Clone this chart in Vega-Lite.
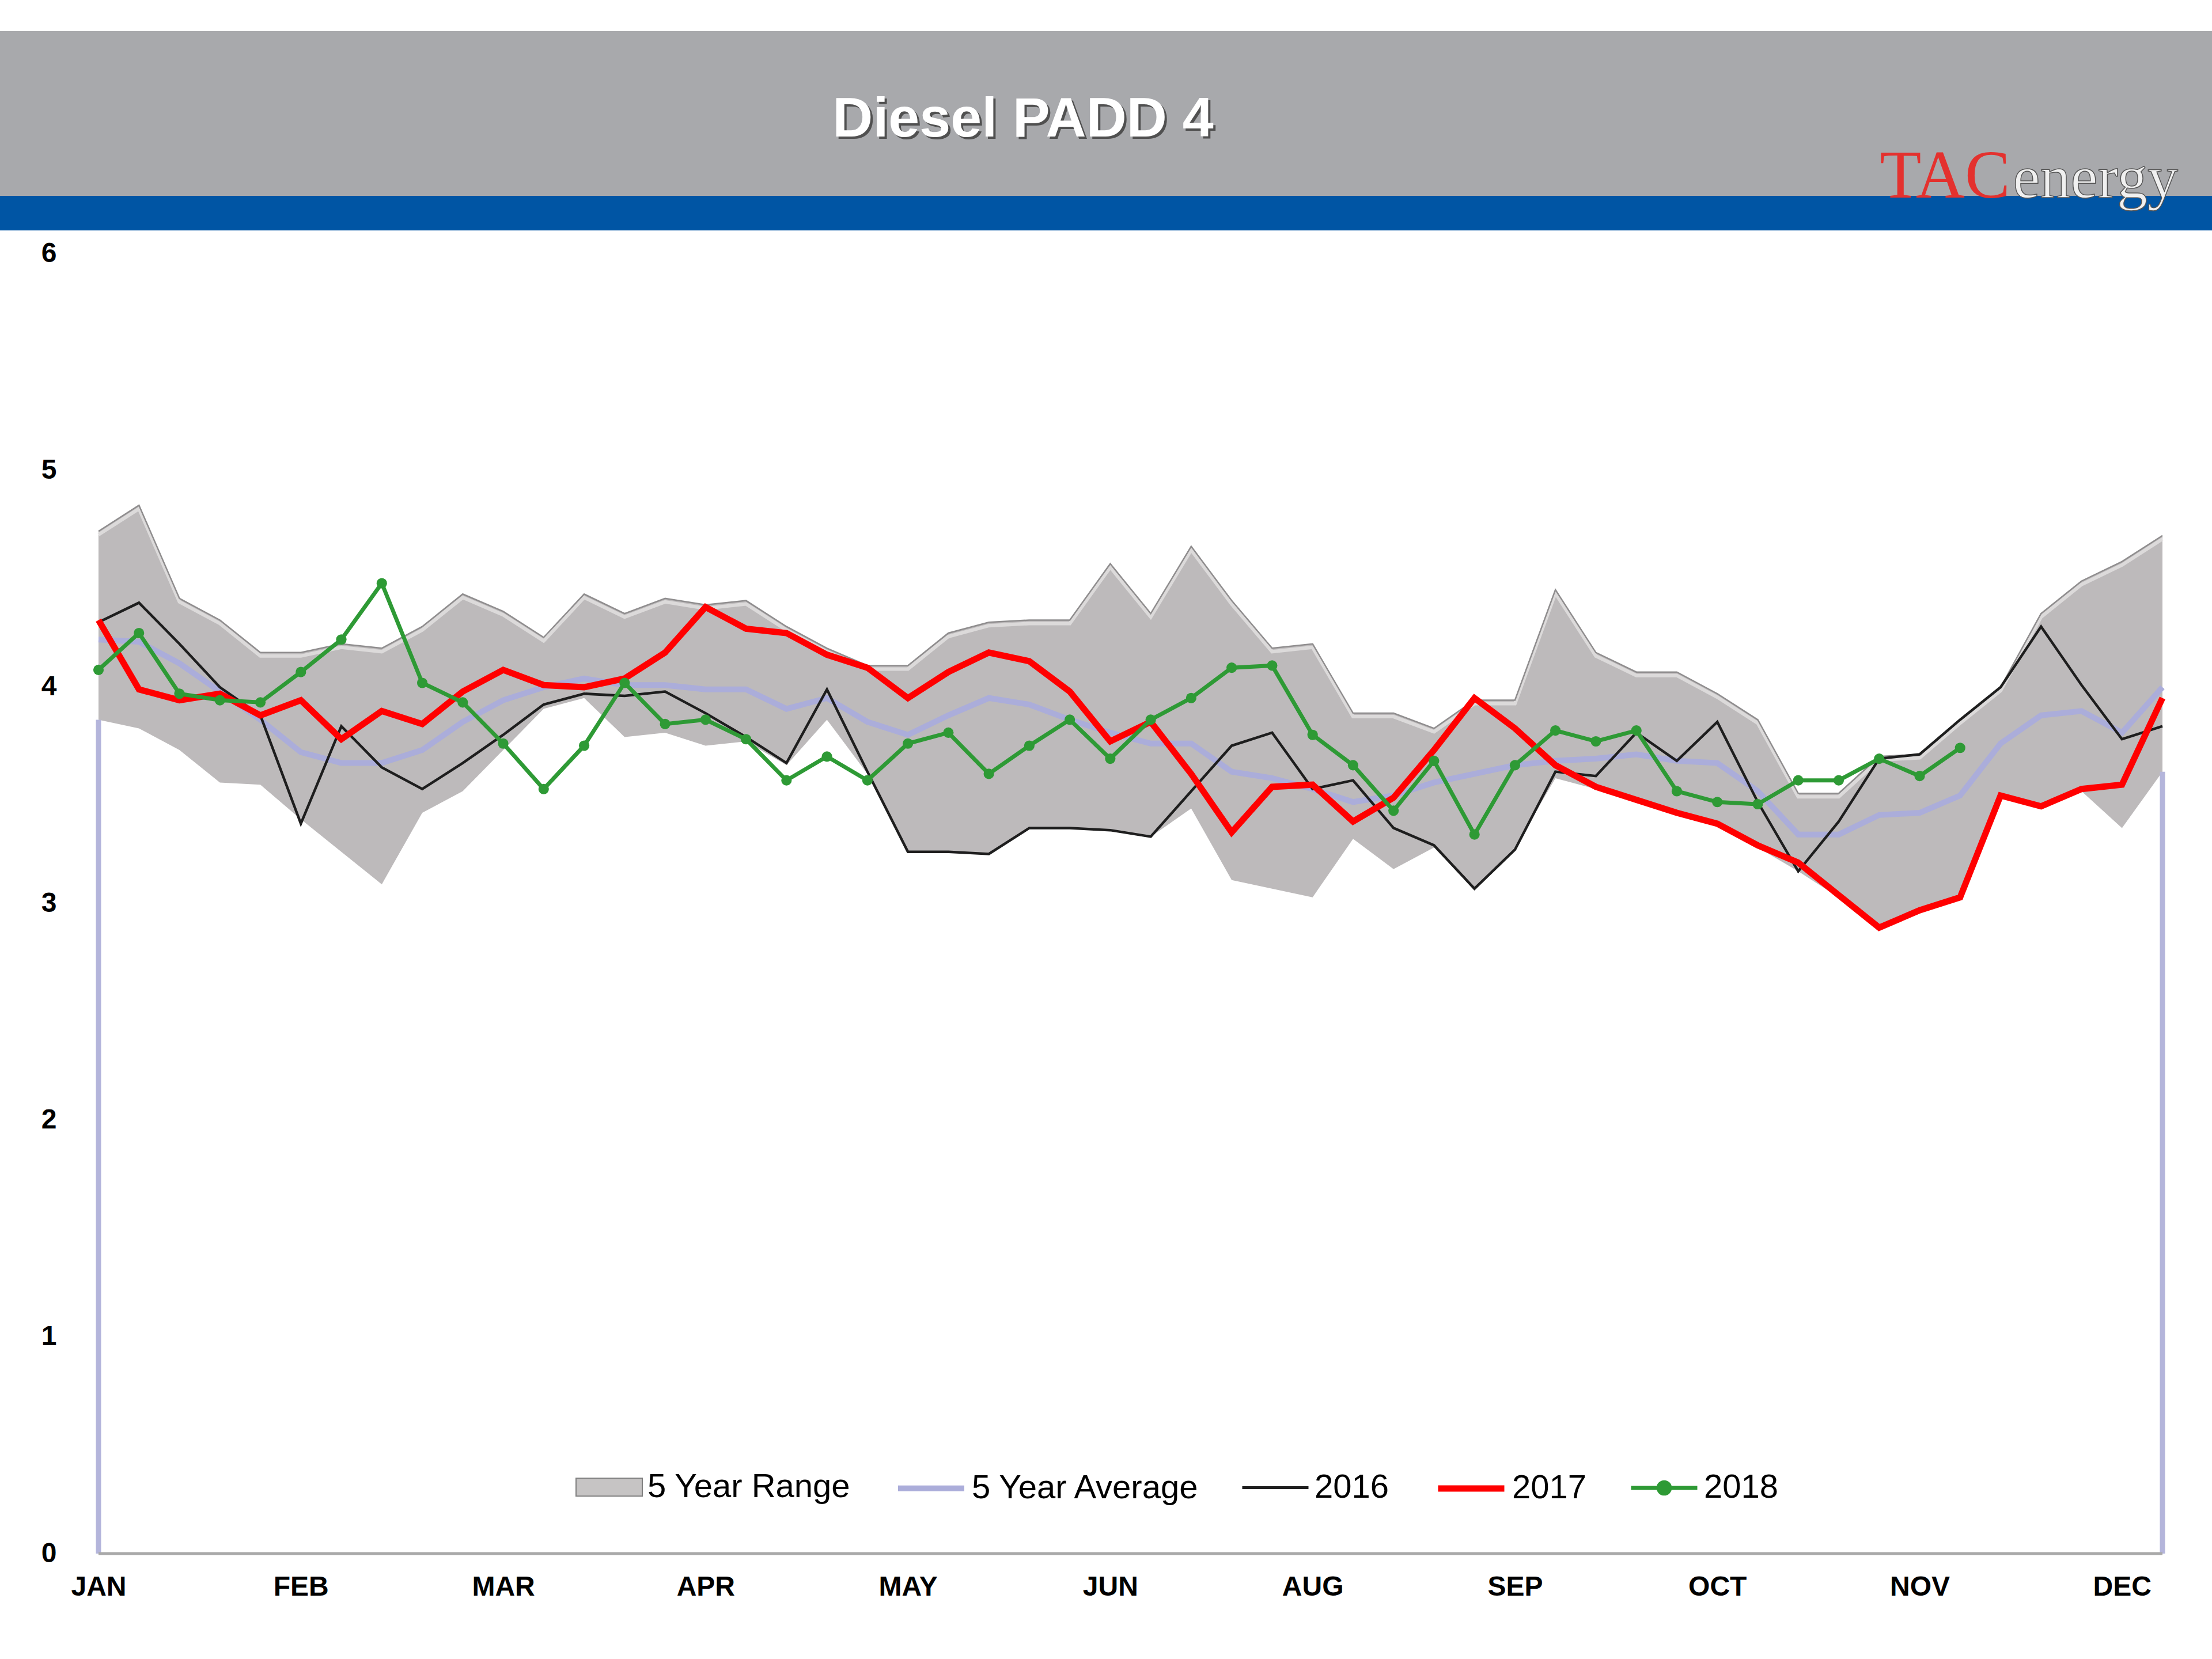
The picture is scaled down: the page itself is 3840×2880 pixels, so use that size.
{
  "$schema": "https://vega.github.io/schema/vega-lite/v6.json",
  "background": "#ffffff",
  "padding": {"top": 54, "left": 0, "right": 0, "bottom": 0},
  "bounds": "flush",
  "spacing": 0,
  "config": {
    "font": "Liberation Sans",
    "view": {"stroke": null},
    "legend": {
      "orient": "none",
      "legendX": 999,
      "legendY": 2467,
      "direction": "horizontal",
      "labelFont": "Liberation Sans",
      "labelFontSize": 58,
      "labelColor": "#000000",
      "labelOffset": 8,
      "labelLimit": 1000,
      "columnPadding": 62,
      "symbolSize": 13225,
      "symbolOpacity": 1,
      "padding": 0
    }
  },
  "datasets": {
    "weekly": [
      {"week":1,"low":3.85,"high":4.72,"avg":4.22,"y2016":4.30,"y2017":4.31,"y2018":4.08},
      {"week":2,"low":3.81,"high":4.84,"avg":4.21,"y2016":4.39,"y2017":3.99,"y2018":4.25},
      {"week":3,"low":3.71,"high":4.41,"avg":4.11,"y2016":4.20,"y2017":3.94,"y2018":3.97},
      {"week":4,"low":3.56,"high":4.31,"avg":3.98,"y2016":4.00,"y2017":3.97,"y2018":3.94},
      {"week":5,"low":3.55,"high":4.16,"avg":3.85,"y2016":3.87,"y2017":3.87,"y2018":3.93},
      {"week":6,"low":3.39,"high":4.16,"avg":3.70,"y2016":3.37,"y2017":3.94,"y2018":4.07},
      {"week":7,"low":3.24,"high":4.20,"avg":3.65,"y2016":3.82,"y2017":3.76,"y2018":4.22},
      {"week":8,"low":3.09,"high":4.18,"avg":3.65,"y2016":3.63,"y2017":3.89,"y2018":4.48},
      {"week":9,"low":3.42,"high":4.28,"avg":3.71,"y2016":3.53,"y2017":3.83,"y2018":4.02},
      {"week":10,"low":3.52,"high":4.43,"avg":3.84,"y2016":3.65,"y2017":3.98,"y2018":3.93},
      {"week":11,"low":3.71,"high":4.35,"avg":3.94,"y2016":3.78,"y2017":4.08,"y2018":3.74},
      {"week":12,"low":3.90,"high":4.23,"avg":4.00,"y2016":3.92,"y2017":4.01,"y2018":3.53},
      {"week":13,"low":3.95,"high":4.43,"avg":4.04,"y2016":3.97,"y2017":4.00,"y2018":3.73},
      {"week":14,"low":3.77,"high":4.34,"avg":4.01,"y2016":3.96,"y2017":4.04,"y2018":4.02},
      {"week":15,"low":3.79,"high":4.41,"avg":4.01,"y2016":3.98,"y2017":4.16,"y2018":3.83},
      {"week":16,"low":3.73,"high":4.38,"avg":3.99,"y2016":3.88,"y2017":4.37,"y2018":3.85},
      {"week":17,"low":3.75,"high":4.40,"avg":3.99,"y2016":3.77,"y2017":4.27,"y2018":3.76},
      {"week":18,"low":3.64,"high":4.28,"avg":3.90,"y2016":3.65,"y2017":4.25,"y2018":3.57},
      {"week":19,"low":3.85,"high":4.18,"avg":3.95,"y2016":3.99,"y2017":4.15,"y2018":3.68},
      {"week":20,"low":3.60,"high":4.10,"avg":3.84,"y2016":3.61,"y2017":4.09,"y2018":3.57},
      {"week":21,"low":3.24,"high":4.10,"avg":3.78,"y2016":3.24,"y2017":3.95,"y2018":3.74},
      {"week":22,"low":3.24,"high":4.25,"avg":3.87,"y2016":3.24,"y2017":4.07,"y2018":3.79},
      {"week":23,"low":3.23,"high":4.30,"avg":3.95,"y2016":3.23,"y2017":4.16,"y2018":3.60},
      {"week":24,"low":3.35,"high":4.31,"avg":3.92,"y2016":3.35,"y2017":4.12,"y2018":3.73},
      {"week":25,"low":3.35,"high":4.31,"avg":3.85,"y2016":3.35,"y2017":3.98,"y2018":3.85},
      {"week":26,"low":3.34,"high":4.57,"avg":3.79,"y2016":3.34,"y2017":3.75,"y2018":3.67},
      {"week":27,"low":3.31,"high":4.34,"avg":3.74,"y2016":3.31,"y2017":3.84,"y2018":3.85},
      {"week":28,"low":3.44,"high":4.65,"avg":3.74,"y2016":3.52,"y2017":3.60,"y2018":3.95},
      {"week":29,"low":3.11,"high":4.40,"avg":3.61,"y2016":3.73,"y2017":3.33,"y2018":4.09},
      {"week":30,"low":3.07,"high":4.18,"avg":3.58,"y2016":3.79,"y2017":3.54,"y2018":4.10},
      {"week":31,"low":3.03,"high":4.20,"avg":3.53,"y2016":3.53,"y2017":3.55,"y2018":3.78},
      {"week":32,"low":3.30,"high":3.88,"avg":3.47,"y2016":3.57,"y2017":3.38,"y2018":3.64},
      {"week":33,"low":3.16,"high":3.88,"avg":3.50,"y2016":3.35,"y2017":3.49,"y2018":3.43},
      {"week":34,"low":3.26,"high":3.81,"avg":3.56,"y2016":3.27,"y2017":3.71,"y2018":3.66},
      {"week":35,"low":3.07,"high":3.94,"avg":3.60,"y2016":3.07,"y2017":3.95,"y2018":3.32},
      {"week":36,"low":3.26,"high":3.94,"avg":3.64,"y2016":3.25,"y2017":3.81,"y2018":3.64},
      {"week":37,"low":3.58,"high":4.45,"avg":3.66,"y2016":3.61,"y2017":3.64,"y2018":3.80},
      {"week":38,"low":3.53,"high":4.16,"avg":3.67,"y2016":3.59,"y2017":3.54,"y2018":3.75},
      {"week":39,"low":3.47,"high":4.07,"avg":3.69,"y2016":3.79,"y2017":3.48,"y2018":3.80},
      {"week":40,"low":3.41,"high":4.07,"avg":3.66,"y2016":3.66,"y2017":3.42,"y2018":3.52},
      {"week":41,"low":3.36,"high":3.97,"avg":3.65,"y2016":3.84,"y2017":3.37,"y2018":3.47},
      {"week":42,"low":3.26,"high":3.85,"avg":3.52,"y2016":3.47,"y2017":3.27,"y2018":3.46},
      {"week":43,"low":3.15,"high":3.51,"avg":3.32,"y2016":3.15,"y2017":3.19,"y2018":3.57},
      {"week":44,"low":3.03,"high":3.51,"avg":3.32,"y2016":3.38,"y2017":3.04,"y2018":3.57},
      {"week":45,"low":2.89,"high":3.68,"avg":3.41,"y2016":3.67,"y2017":2.89,"y2018":3.67},
      {"week":46,"low":2.97,"high":3.69,"avg":3.42,"y2016":3.69,"y2017":2.97,"y2018":3.59},
      {"week":47,"low":3.03,"high":3.85,"avg":3.50,"y2016":3.85,"y2017":3.03,"y2018":3.72},
      {"week":48,"low":3.50,"high":4.00,"avg":3.74,"y2016":4.00,"y2017":3.50},
      {"week":49,"low":3.45,"high":4.34,"avg":3.87,"y2016":4.28,"y2017":3.45},
      {"week":50,"low":3.52,"high":4.49,"avg":3.89,"y2016":4.01,"y2017":3.53},
      {"week":51,"low":3.35,"high":4.58,"avg":3.79,"y2016":3.76,"y2017":3.55},
      {"week":52,"low":3.61,"high":4.70,"avg":4.00,"y2016":3.82,"y2017":3.95}
    ],
    "legendrows": [
      {"series": "5 Year Range"},
      {"series": "5 Year Average"},
      {"series": "2016"},
      {"series": "2017"},
      {"series": "2018"}
    ]
  },
  "vconcat": [
    {
      "width": 3840,
      "height": 286,
      "view": {"fill": "#a8a9ac", "stroke": null},
      "data": {"values": [{"t": "Diesel PADD 4"}]},
      "layer": [
        {
          "mark": {"type": "text", "font": "Liberation Sans", "fontWeight": "bold", "fontSize": 97, "color": "#505050", "align": "center", "baseline": "middle", "dx": 4, "dy": 4},
          "encoding": {
            "text": {"field": "t"},
            "x": {"datum": 0.4625, "type": "quantitative", "scale": {"domain": [0, 1], "nice": false, "zero": false}, "axis": null},
            "y": {"datum": 0.462, "type": "quantitative", "scale": {"domain": [0, 1], "nice": false, "zero": false}, "axis": null}
          }
        },
        {
          "mark": {"type": "text", "font": "Liberation Sans", "fontWeight": "bold", "fontSize": 97, "color": "#ffffff", "align": "center", "baseline": "middle"},
          "encoding": {
            "text": {"field": "t"},
            "x": {"datum": 0.4625, "type": "quantitative", "scale": {"domain": [0, 1], "nice": false, "zero": false}, "axis": null},
            "y": {"datum": 0.462, "type": "quantitative", "scale": {"domain": [0, 1], "nice": false, "zero": false}, "axis": null}
          }
        }
      ]
    },
    {
      "width": 3840,
      "height": 60,
      "view": {"fill": "#0055a4", "stroke": null},
      "data": {"values": [{"a": "TAC", "b": "energy"}]},
      "layer": [
        {
          "mark": {"type": "text", "font": "Liberation Serif", "fontSize": 118, "color": "#e4312e", "align": "right", "baseline": "alphabetic"},
          "encoding": {
            "text": {"field": "a"},
            "x": {"datum": 0.9088, "type": "quantitative", "scale": {"domain": [0, 1], "nice": false, "zero": false}, "axis": null},
            "y": {"datum": 0.95, "type": "quantitative", "scale": {"domain": [0, 1], "nice": false, "zero": false}, "axis": null}
          }
        },
        {
          "mark": {"type": "text", "font": "Liberation Serif", "fontSize": 106, "fill": "#f0f0f0", "stroke": "#555555", "strokeWidth": 1.5, "align": "left", "baseline": "alphabetic"},
          "encoding": {
            "text": {"field": "b"},
            "x": {"datum": 0.9100, "type": "quantitative", "scale": {"domain": [0, 1], "nice": false, "zero": false}, "axis": null},
            "y": {"datum": 0.95, "type": "quantitative", "scale": {"domain": [0, 1], "nice": false, "zero": false}, "axis": null}
          }
        }
      ]
    },
    {
      "width": 3840,
      "height": 2297,
      "data": {"name": "weekly"},
      "layer": [
        {
          "mark": {"type": "area", "color": "#bdbabb", "opacity": 1},
          "encoding": {
            "x": {"field": "week", "type": "quantitative", "scale": {"domain": [-1.434, 53.224], "nice": false, "zero": false},
              "axis": {"values": [1, 6, 11, 16, 21, 26, 31, 36, 41, 46, 51],
                "labelExpr": "['JAN','FEB','MAR','APR','MAY','JUN','AUG','SEP','OCT','NOV','DEC'][round((datum.value - 1) / 5)]",
                "title": null, "domain": false, "ticks": false, "grid": false,
                "labelFont": "Liberation Sans", "labelFontWeight": "bold", "labelFontSize": 48, "labelColor": "#000000",
                "labelPadding": 34, "labelFlush": false, "labelOverlap": false}},
            "y": {"field": "high", "type": "quantitative", "scale": {"domain": [0, 6.109], "nice": false, "zero": false},
              "axis": {"values": [0, 1, 2, 3, 4, 5, 6], "format": "d", "title": null, "domain": false, "ticks": false, "grid": false,
                "offset": -171, "labelPadding": 73,
                "labelFont": "Liberation Sans", "labelFontWeight": "bold", "labelFontSize": 48, "labelColor": "#000000",
                "labelFlush": false, "labelOverlap": false}},
            "y2": {"field": "low"}
          }
        },
        {
          "mark": {"type": "line", "color": "#e4e2e2", "strokeWidth": 6, "yOffset": 6, "opacity": 0.8},
          "encoding": {
            "x": {"field": "week", "type": "quantitative", "scale": {"domain": [-1.434, 53.224], "nice": false, "zero": false}, "axis": {"title": null}},
            "y": {"field": "high", "type": "quantitative", "scale": {"domain": [0, 6.109], "nice": false, "zero": false}, "axis": {"title": null}}
          }
        },
        {
          "mark": {"type": "line", "color": "#8f8d8e", "strokeWidth": 2.5},
          "encoding": {
            "x": {"field": "week", "type": "quantitative", "scale": {"domain": [-1.434, 53.224], "nice": false, "zero": false}, "axis": {"title": null}},
            "y": {"field": "high", "type": "quantitative", "scale": {"domain": [0, 6.109], "nice": false, "zero": false}, "axis": {"title": null}}
          }
        },
        {
          "transform": [{"filter": "datum.week == 1 || datum.week == 52"}],
          "mark": {"type": "rule", "color": "#b4b5db", "strokeWidth": 9},
          "encoding": {
            "x": {"field": "week", "type": "quantitative", "scale": {"domain": [-1.434, 53.224], "nice": false, "zero": false}, "axis": {"title": null}},
            "y": {"field": "low", "type": "quantitative", "scale": {"domain": [0, 6.109], "nice": false, "zero": false}, "axis": {"title": null}},
            "y2": {"datum": 0}
          }
        },
        {
          "data": {"values": [{}]},
          "mark": {"type": "rule", "color": "#a9a9a9", "strokeWidth": 5},
          "encoding": {
            "x": {"datum": 1, "type": "quantitative", "scale": {"domain": [-1.434, 53.224], "nice": false, "zero": false}, "axis": {"title": null}},
            "x2": {"datum": 52},
            "y": {"datum": 0, "type": "quantitative", "scale": {"domain": [0, 6.109], "nice": false, "zero": false}, "axis": {"title": null}}
          }
        },
        {
          "mark": {"type": "line", "color": "#abadda", "strokeWidth": 10},
          "encoding": {
            "x": {"field": "week", "type": "quantitative", "scale": {"domain": [-1.434, 53.224], "nice": false, "zero": false}, "axis": {"title": null}},
            "y": {"field": "avg", "type": "quantitative", "scale": {"domain": [0, 6.109], "nice": false, "zero": false}, "axis": {"title": null}}
          }
        },
        {
          "mark": {"type": "line", "color": "#1e1e1e", "strokeWidth": 4.5},
          "encoding": {
            "x": {"field": "week", "type": "quantitative", "scale": {"domain": [-1.434, 53.224], "nice": false, "zero": false}, "axis": {"title": null}},
            "y": {"field": "y2016", "type": "quantitative", "scale": {"domain": [0, 6.109], "nice": false, "zero": false}, "axis": {"title": null}}
          }
        },
        {
          "mark": {"type": "line", "color": "#ff0000", "strokeWidth": 11},
          "encoding": {
            "x": {"field": "week", "type": "quantitative", "scale": {"domain": [-1.434, 53.224], "nice": false, "zero": false}, "axis": {"title": null}},
            "y": {"field": "y2017", "type": "quantitative", "scale": {"domain": [0, 6.109], "nice": false, "zero": false}, "axis": {"title": null}}
          }
        },
        {
          "mark": {"type": "line", "color": "#2e9a35", "strokeWidth": 7, "point": {"filled": true, "size": 330, "color": "#2e9a35"}},
          "encoding": {
            "x": {"field": "week", "type": "quantitative", "scale": {"domain": [-1.434, 53.224], "nice": false, "zero": false}, "axis": {"title": null}},
            "y": {"field": "y2018", "type": "quantitative", "scale": {"domain": [0, 6.109], "nice": false, "zero": false}, "axis": {"title": null}}
          }
        },
        {
          "data": {"name": "legendrows"},
          "mark": {"type": "point", "filled": true, "clip": true, "opacity": 1},
          "encoding": {
            "x": {"datum": -40, "type": "quantitative", "scale": {"domain": [-1.434, 53.224], "nice": false, "zero": false}, "axis": {"title": null}},
            "y": {"datum": -40, "type": "quantitative", "scale": {"domain": [0, 6.109], "nice": false, "zero": false}, "axis": {"title": null}},
            "fill": {"field": "series", "type": "nominal",
              "scale": {"domain": ["5 Year Range", "5 Year Average", "2016", "2017", "2018"], "range": ["#c6c4c4", "#abadda", "#1e1e1e", "#ff0000", "#2e9a35"]},
              "legend": {"title": null, "orient": "none", "legendX": 999, "legendY": 2467, "direction": "horizontal", "symbolOpacity": 1}},
            "stroke": {"field": "series", "type": "nominal",
              "scale": {"domain": ["5 Year Range", "5 Year Average", "2016", "2017", "2018"], "range": ["#808080", "#abadda", "#1e1e1e", "#ff0000", "#2e9a35"]},
              "legend": {"title": null, "orient": "none", "legendX": 999, "legendY": 2467, "direction": "horizontal", "symbolOpacity": 1}},
            "shape": {"field": "series", "type": "nominal",
              "scale": {"domain": ["5 Year Range", "5 Year Average", "2016", "2017", "2018"], "range": ["M-1,-0.27H1V0.27H-1Z", "M-1,0H1", "M-1,0H1", "M-1,0H1", "M-1,0H1M0.17,0A0.17,0.17,0,1,1,-0.17,0A0.17,0.17,0,1,1,0.17,0"]},
              "legend": {"title": null, "orient": "none", "legendX": 999, "legendY": 2467, "direction": "horizontal", "symbolOpacity": 1}},
            "strokeWidth": {"field": "series", "type": "nominal",
              "scale": {"type": "ordinal", "domain": ["5 Year Range", "5 Year Average", "2016", "2017", "2018"], "range": [2, 10, 5, 11, 7]},
              "legend": {"title": null, "orient": "none", "legendX": 999, "legendY": 2467, "direction": "horizontal", "symbolOpacity": 1}}
          }
        }
      ]
    }
  ]
}
